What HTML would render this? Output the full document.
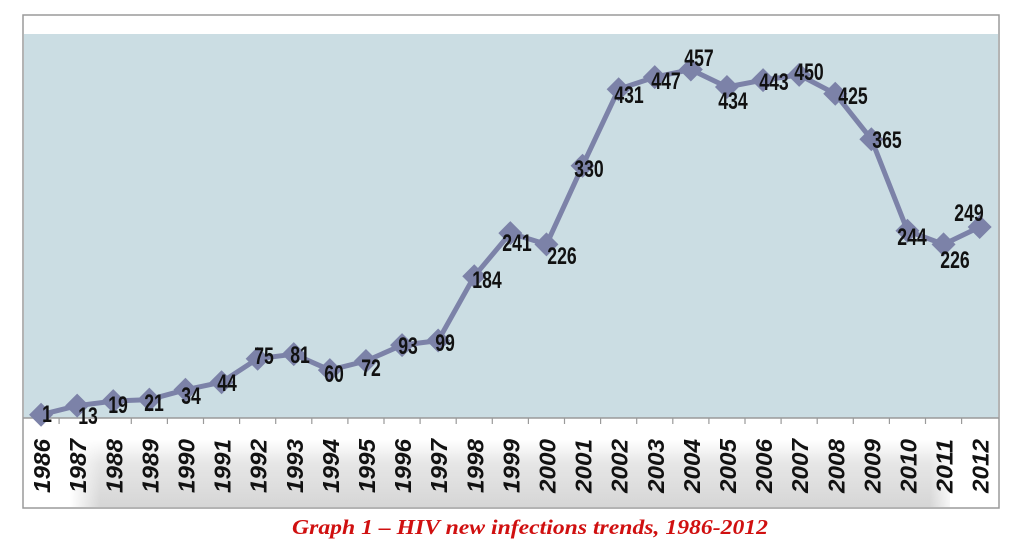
<!DOCTYPE html>
<html><head><meta charset="utf-8"><style>
html,body{margin:0;padding:0;background:#fff;}
svg{display:block;}
.v{font-family:"Liberation Sans",sans-serif;font-weight:bold;font-size:24px;fill:#111;text-anchor:middle;}
.y{font-family:"Liberation Sans",sans-serif;font-weight:bold;font-style:italic;font-size:23px;fill:#111;}
</style></head><body>
<svg width="1024" height="550" viewBox="0 0 1024 550">
<defs>
<linearGradient id="g" x1="0" y1="0" x2="0" y2="1">
<stop offset="0" stop-color="#fff"/><stop offset="0.35" stop-color="#e6e6e6"/><stop offset="1" stop-color="#d6d6d6"/>
</linearGradient>
<linearGradient id="gl" x1="0" y1="0" x2="1" y2="0">
<stop offset="0" stop-color="#fff" stop-opacity="1"/><stop offset="1" stop-color="#fff" stop-opacity="0"/>
</linearGradient>
<linearGradient id="gr" x1="0" y1="0" x2="1" y2="0">
<stop offset="0" stop-color="#fff" stop-opacity="0"/><stop offset="1" stop-color="#fff" stop-opacity="1"/>
</linearGradient>
</defs>
<rect x="23" y="15" width="976" height="493" fill="#fff" stroke="#9a9a9a" stroke-width="1.5"/>
<rect x="70" y="440" width="880" height="67" fill="url(#g)"/>
<rect x="70" y="440" width="30" height="67" fill="url(#gl)"/>
<rect x="930" y="440" width="25" height="67" fill="url(#gr)"/>
<rect x="24" y="34" width="974" height="384" fill="#cbdde3"/>
<line x1="23" y1="418" x2="999" y2="418" stroke="#9a9a9a" stroke-width="1.5"/>
<g id="ticks" stroke="#9a9a9a" stroke-width="1.2"></g>
<g id="yrs"></g>
<polyline id="ln" fill="none" stroke="#7c82a8" stroke-width="5" stroke-linejoin="round"/>
<g id="mk" fill="#7c82a8"></g>
<g id="lb"></g>
<text x="530" y="534" text-anchor="middle" font-family="Liberation Serif,serif" font-weight="bold" font-style="italic" font-size="21" fill="#d01010" textLength="476" lengthAdjust="spacingAndGlyphs">Graph 1 – HIV new infections trends, 1986-2012</text>
</svg>
<script>
var vals=[1,13,19,21,34,44,75,81,60,72,93,99,184,241,226,330,431,447,457,434,443,450,425,365,244,226,249];
var lab=[[47,414],[88,416],[118,405],[154,403],[191,396],[227,383],[264,356],[300,355],[334,374],[371,368],[408,346],[445,343],[487,280],[517,243],[562,256],[589,169],[629,95],[666,81],[699,58],[733,101],[774,82],[809,72],[853,96],[887,140],[912,237],[955,260],[969,213]];
var ns="http://www.w3.org/2000/svg",pts=[],w=36.1;
function el(t,a,p,txt){var e=document.createElementNS(ns,t);for(var k in a)e.setAttribute(k,a[k]);if(txt!=null)e.textContent=txt;document.getElementById(p).appendChild(e);}
for(var i=0;i<27;i++){
 var x=23+w*(i+0.5),y=415.5-vals[i]*0.757;pts.push(x.toFixed(1)+","+y.toFixed(1));
 el("path",{d:"M"+x+" "+(y-12)+"L"+(x+12)+" "+y+"L"+x+" "+(y+12)+"L"+(x-12)+" "+y+"Z"},"mk");
 var s=String(vals[i]);
 el("text",{x:lab[i][0],y:lab[i][1]+8,"class":"v",textLength:s.length*9.8,lengthAdjust:"spacingAndGlyphs"},"lb",s);
 el("text",{x:0,y:0,"class":"y",textLength:54,lengthAdjust:"spacingAndGlyphs",transform:"translate("+(x+9)+",493) rotate(-90)"},"yrs",1986+i);
 if(i>0){var tx=23+w*i;el("line",{x1:tx,y1:418,x2:tx,y2:424},"ticks");}
}
document.getElementById("ln").setAttribute("points",pts.join(" "));
</script>
</body></html>
